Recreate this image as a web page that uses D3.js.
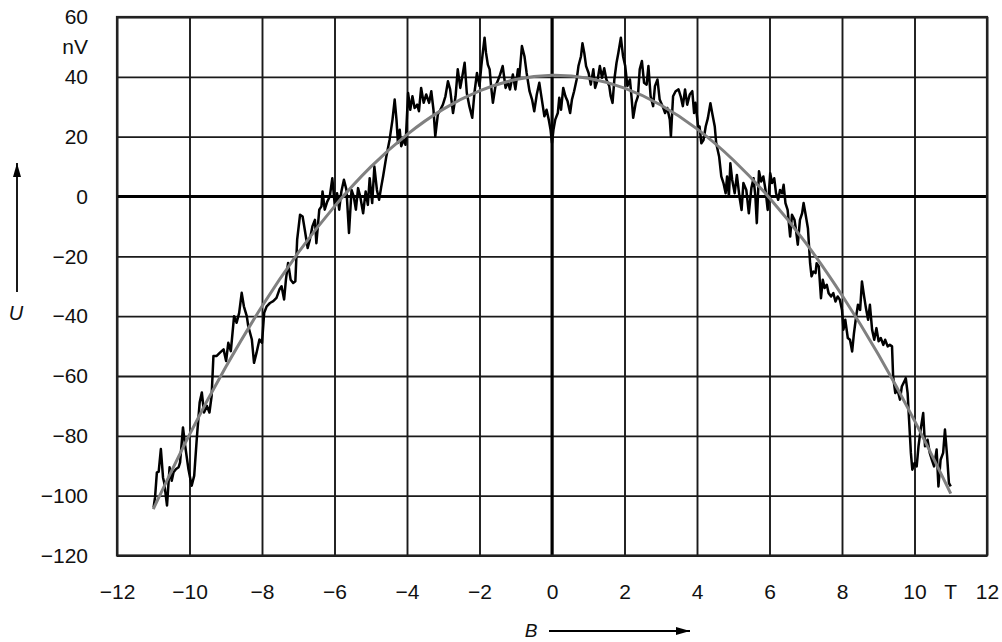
<!DOCTYPE html>
<html>
<head>
<meta charset="utf-8">
<script src="https://cdn.jsdelivr.net/npm/d3@7/dist/d3.min.js"></script>
<style>
  body { margin: 0; background: #fff; }
  text { font-family: "Liberation Sans", Arial, sans-serif; fill: #111; }
</style>
</head>
<body>
<svg width="1002" height="642"></svg>
<script>
// tick values
var xTicks = [-12, -10, -8, -6, -4, -2, 0, 2, 4, 6, 8, 10, 12];
var yTicks = [-120, -100, -80, -60, -40, -20, 0, 20, 40, 60];

// smooth fit (grey), read at every 1 T
var fitB = [-11, -10, -9, -8, -7, -6, -5, -4, -3, -2, -1, 0, 1, 2, 3, 4, 5, 6, 7, 8, 9, 10, 11];
var fitU = [-104.5, -79.6, -57.0, -36.7, -18.8, -3.3, 9.9, 20.7, 29.2, 35.3, 39.1, 40.5,
            39.5, 36.2, 30.6, 22.6, 12.2, -0.5, -15.5, -33.0, -52.7, -74.9, -99.3];

var sigB = [
  -10.99, -10.95, -10.90, -10.85, -10.79, -10.73, -10.70, -10.62, -10.55, -10.49, -10.44, -10.37, -10.30, -10.26,
  -10.18, -10.12, -10.03, -9.94, -9.87, -9.80, -9.72, -9.66, -9.60, -9.52, -9.45, -9.39, -9.34, -9.25, -9.16,
  -9.06, -8.99, -8.93, -8.86, -8.77, -8.70, -8.63, -8.56, -8.50, -8.42, -8.38, -8.28, -8.22, -8.15, -8.07,
  -8.00, -7.94, -7.87, -7.78, -7.69, -7.60, -7.52, -7.46, -7.39, -7.34, -7.28, -7.21, -7.14, -7.08, -7.03,
  -6.95, -6.88, -6.82, -6.74, -6.68, -6.61, -6.54, -6.50, -6.42, -6.36, -6.33, -6.27, -6.20, -6.13, -6.06,
  -5.99, -5.93, -5.87, -5.81, -5.74, -5.67, -5.60, -5.53, -5.47, -5.41, -5.35, -5.29, -5.21, -5.14, -5.08,
  -5.03, -4.96, -4.90, -4.83, -4.77, -4.71,
  -4.66, -4.57, -4.48, -4.40, -4.34, -4.29, -4.25, -4.20, -4.16, -4.09, -4.04, -3.97, -3.91, -3.85, -3.79,
  -3.72, -3.67, -3.61, -3.54, -3.47, -3.39, -3.33, -3.27, -3.22, -3.15, -3.08, -3.01, -2.94, -2.87, -2.81,
  -2.73, -2.66, -2.60, -2.53, -2.48, -2.41, -2.35, -2.28, -2.20, -2.14, -2.07, -2.00, -1.95, -1.91, -1.86,
  -1.82, -1.77, -1.72, -1.68, -1.63, -1.56, -1.50, -1.43, -1.36, -1.28, -1.22, -1.16, -1.08, -1.01, -0.94,
  -0.90, -0.83, -0.76, -0.70, -0.62, -0.55, -0.49, -0.42, -0.35, -0.28, -0.21, -0.15, -0.09, -0.04, 0.00,
  0.04, 0.09, 0.16, 0.20, 0.25, 0.31, 0.37, 0.43, 0.50, 0.55, 0.61, 0.68, 0.73, 0.80, 0.84,
  0.89, 0.94, 1.01, 1.07, 1.14, 1.19, 1.26, 1.32, 1.38, 1.44, 1.50, 1.58, 1.62, 1.67, 1.72,
  1.78, 1.83, 1.90, 1.96, 2.02, 2.08, 2.15, 2.20, 2.24, 2.31, 2.37, 2.42, 2.48, 2.54, 2.61,
  2.66, 2.72, 2.79, 2.84, 2.91, 2.97, 3.05, 3.12, 3.18, 3.25, 3.28, 3.34, 3.41, 3.49, 3.55,
  3.61, 3.67, 3.73, 3.80, 3.87, 3.92, 3.96, 4.04,
  4.07, 4.12, 4.18, 4.24, 4.30, 4.37, 4.42, 4.49, 4.53, 4.61, 4.67, 4.73, 4.79, 4.83, 4.88,
  4.92, 4.97, 5.04, 5.10, 5.17, 5.23, 5.28, 5.36, 5.43, 5.50, 5.56, 5.61, 5.65, 5.71, 5.77,
  5.83, 5.89, 5.95, 6.02, 6.07, 6.13, 6.18, 6.24, 6.29, 6.35, 6.39, 6.44, 6.50, 6.57, 6.62,
  6.69, 6.73, 6.78, 6.84, 6.90, 6.94, 6.99, 7.06, 7.12, 7.16, 7.21, 7.27, 7.30, 7.36, 7.42,
  7.47, 7.52, 7.58, 7.63, 7.70, 7.76, 7.82, 7.88, 7.94, 8.00, 8.04, 8.09, 8.16, 8.22, 8.28,
  8.33, 8.39, 8.44, 8.50, 8.55, 8.61, 8.66, 8.72, 8.77, 8.83, 8.89, 8.95, 9.01, 9.07, 9.14,
  9.19, 9.26, 9.32, 9.38, 9.41, 9.47, 9.53, 9.60, 9.65, 9.72, 9.76, 9.81, 9.85, 9.90, 9.94,
  10.00, 10.06, 10.11, 10.17, 10.24, 10.29, 10.36, 10.42, 10.48, 10.54, 10.61, 10.66, 10.72, 10.79, 10.84,
  10.90, 10.95, 11.00
];
var sigU = [
  -103.9, -100.5, -92.2, -92.0, -84.4, -94.0, -95.5, -103.3, -90.5, -95.0, -92.2, -91.1, -90.5, -88.9,
  -77.2, -83.3, -91.1, -96.7, -93.3, -81.1, -68.9, -65.5, -72.2, -70.0, -72.2, -66.7, -53.3, -53.3, -52.2,
  -51.1, -55.0, -48.9, -51.7, -40.0, -42.2, -38.9, -32.2, -36.7, -40.0, -43.3, -47.8, -55.6, -52.2, -47.8,
  -48.9, -38.9, -36.7, -35.6, -35.0, -33.9, -31.1, -30.0, -34.4, -27.8, -22.2, -27.8, -28.9, -28.3, -14.4,
  -6.1, -6.7, -11.1, -17.2, -14.4, -10.0, -7.8, -15.6, -4.4, -3.3, 1.7, -4.4, -1.7, 0.0, 6.1,
  -3.3, 1.1, -4.4, 1.7, 5.6, 2.2, -12.2, 2.2, 0.0, -4.4, 2.8, 0.0, -5.6, 1.7, -2.8,
  6.1, -2.2, 10.0, 2.2, -1.1, 3.3,
  6.7, 13.4, 19.0, 25.7, 32.4, 25.7, 17.9, 22.3, 16.8, 19.0, 17.3, 34.6, 29.0, 33.5, 29.6,
  30.7, 28.5, 36.3, 31.3, 34.1, 31.3, 35.2, 29.0, 20.1, 27.4, 29.0, 30.7, 33.5, 38.5, 35.8,
  27.9, 33.5, 42.5, 36.3, 39.7, 44.7, 34.6, 30.2, 26.3, 34.6, 41.3, 36.9, 43.6, 48.0, 53.1,
  48.0, 44.1, 42.5, 36.9, 31.3, 36.9, 38.5, 40.8, 43.6, 36.3, 38.5, 35.8, 40.8, 35.8, 42.5,
  40.2, 50.3, 46.9, 41.3, 35.2, 32.4, 28.5, 34.1, 38.0, 32.4, 26.8, 29.0, 25.7, 22.3, 17.9,
  22.3, 25.7, 27.9, 33.0, 29.0, 36.3, 33.5, 31.8, 27.9, 32.4, 35.2, 39.1, 43.6, 46.9, 51.2,
  48.0, 43.6, 41.3, 37.4, 42.5, 36.3, 39.1, 43.6, 39.7, 42.9, 39.1, 36.9, 33.5, 31.3, 39.1,
  44.7, 48.0, 53.1, 46.9, 43.6, 36.9, 39.1, 32.4, 26.3, 31.3, 33.5, 42.5, 45.3, 38.0, 37.4,
  43.6, 33.5, 30.2, 36.9, 39.1, 32.4, 30.2, 27.9, 29.6, 25.7, 20.1, 33.5, 35.2, 35.8, 33.5,
  30.2, 35.8, 30.7, 34.1, 35.2, 27.9, 31.3, 22.3,
  23.4, 17.8, 18.9, 23.4, 26.2, 31.2, 27.8, 23.4, 17.8, 13.4, 6.7, 4.5, 1.1, 6.7, 0.0,
  11.1, 5.6, 1.1, 7.2, 0.0, -4.5, 4.5, 2.2, -5.6, 2.8, 6.1, 0.0, -8.9, 8.4, 5.0,
  6.7, 2.2, -4.5, 7.8, 4.5, 6.1, 1.1, -1.1, 2.2, 1.1, 3.9, -2.2, -4.5, -13.4, -6.1,
  -7.8, -11.1, -16.1, -7.8, -5.6, -2.2, -5.6, -10.6, -22.3, -26.7, -25.1, -25.6, -22.3, -23.4, -34.0,
  -27.8, -30.6, -29.5, -32.3, -33.4, -32.3, -35.1, -33.4, -34.5, -37.9, -44.5, -41.2, -47.3, -47.9, -51.8,
  -45.7, -40.1, -36.2, -37.9, -28.4, -33.4, -37.3, -41.2, -36.2, -44.5, -47.9, -44.0, -48.4, -47.3, -49.6,
  -47.9, -50.1, -49.6, -50.1, -60.1, -65.7, -64.6, -67.9, -63.5, -61.8, -60.7, -65.7, -74.6, -85.7, -91.3,
  -89.1, -90.2, -83.5, -77.9, -72.4, -83.5, -81.3, -85.7, -88.0, -90.2, -84.6, -96.9, -88.0, -85.7, -77.9,
  -86.9, -95.8, -96.9
];

var svg = d3.select("svg"),
    margin = {top: 17, right: 15, bottom: 86.5, left: 117},
    width = +svg.attr("width") - margin.left - margin.right,
    height = +svg.attr("height") - margin.top - margin.bottom,
    g = svg.append("g").attr("transform", "translate(" + margin.left + "," + margin.top + ")");

var x = d3.scaleLinear().domain([-12, 12]).range([0, width]);
var y = d3.scaleLinear().domain([-120, 60]).range([height, 0]);

// grid
g.append("g")
    .attr("class", "grid")
    .attr("transform", "translate(0," + height + ")")
    .call(d3.axisBottom(x).tickValues(xTicks).tickSize(-height).tickFormat(""))
    .call(function (s) { s.select(".domain").remove(); });
g.append("g")
    .attr("class", "grid")
    .call(d3.axisLeft(y).tickValues(yTicks).tickSize(-width).tickFormat(""))
    .call(function (s) { s.select(".domain").remove(); });
g.selectAll(".grid line").attr("stroke", "#1a1a1a").attr("stroke-width", 1.9);

// zero axes
g.append("line").attr("x1", x(0)).attr("x2", x(0)).attr("y1", 0).attr("y2", height)
    .attr("stroke", "#000").attr("stroke-width", 3);
g.append("line").attr("x1", 0).attr("x2", width).attr("y1", y(0)).attr("y2", y(0))
    .attr("stroke", "#000").attr("stroke-width", 3);

g.append("rect").attr("width", width).attr("height", height)
    .attr("fill", "none").attr("stroke", "#222").attr("stroke-width", 2.2);

// tick labels
var yAxis = g.append("g")
    .call(d3.axisLeft(y).tickValues(yTicks).tickSize(0).tickPadding(29));
var xAxis = g.append("g")
    .attr("transform", "translate(0," + height + ")")
    .call(d3.axisBottom(x).tickValues(xTicks).tickSize(0).tickPadding(29));
[xAxis, yAxis].forEach(function (a) {
    a.select(".domain").remove();
    a.selectAll("text").attr("font-size", 21).attr("fill", "#111")
        .attr("font-family", "'Liberation Sans', Arial, sans-serif");
});

// unit labels
g.append("text").attr("x", -29).attr("y", y(50)).attr("dy", "0.32em")
    .attr("text-anchor", "end").attr("font-size", 21).text("nV");
g.append("text").attr("x", x(11)).attr("y", height + 29).attr("dy", "0.71em")
    .attr("text-anchor", "middle").attr("font-size", 21).text("T");

// curves
var line = d3.line().x(function (d) { return x(d[0]); }).y(function (d) { return y(d[1]); });

g.append("path")
    .datum(d3.zip(sigB, sigU))
    .attr("fill", "none").attr("stroke", "#000").attr("stroke-width", 2.5)
    .attr("stroke-linejoin", "round")
    .attr("d", line);

g.append("path")
    .datum(d3.zip(fitB, fitU))
    .attr("fill", "none").attr("stroke", "#808080").attr("stroke-width", 3)
    .attr("d", line.curve(d3.curveNatural));

// axis titles with arrows
svg.append("defs").append("marker")
    .attr("id", "arr").attr("viewBox", "0 0 14 8")
    .attr("refX", 14).attr("refY", 4)
    .attr("markerWidth", 14).attr("markerHeight", 8)
    .attr("markerUnits", "userSpaceOnUse")
    .attr("orient", "auto")
    .append("path").attr("d", "M0,0L14,4L0,8Z").attr("fill", "#000");

svg.append("text").attr("x", 531).attr("y", 637).attr("text-anchor", "middle")
    .attr("font-size", 19).attr("font-style", "italic").text("B");
svg.append("line").attr("x1", 549).attr("x2", 690).attr("y1", 631).attr("y2", 631)
    .attr("stroke", "#000").attr("stroke-width", 1.8).attr("marker-end", "url(#arr)");

svg.append("text").attr("x", 16).attr("y", 320).attr("text-anchor", "middle")
    .attr("font-size", 20).attr("font-style", "italic").text("U");
svg.append("line").attr("x1", 17).attr("x2", 17).attr("y1", 292).attr("y2", 163)
    .attr("stroke", "#000").attr("stroke-width", 1.8).attr("marker-end", "url(#arr)");
</script>
</body>
</html>
